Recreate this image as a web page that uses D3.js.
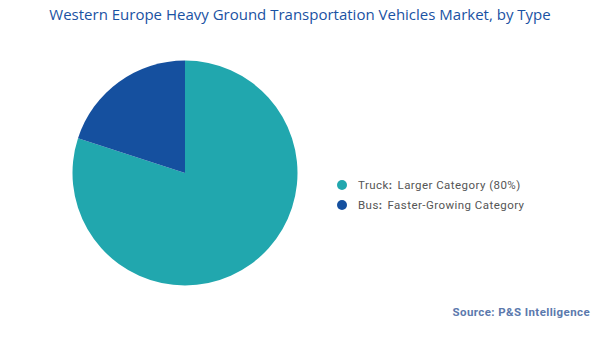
<!DOCTYPE html>
<html>
<head>
<meta charset="utf-8">
<script src="https://cdn.jsdelivr.net/npm/d3@7"></script>
<style>
  body { margin: 0; background: #fff; }
  svg { display: block; }
</style>
</head>
<body>
<svg width="600" height="337"></svg>
<script>
const categories = ["Truck", "Bus"];
const shares = [80, 20];
const legendLabels = ["Larger Category (80%)", "Faster-Growing Category"];
const colors = ["#21a7ae", "#15509f"];

const svg = d3.select("svg");
const width = +svg.attr("width");

svg.append("text")
    .attr("x", width / 2)
    .attr("y", 20)
    .attr("text-anchor", "middle")
    .attr("font-family", "Open Sans")
    .attr("font-size", 15)
    .attr("fill", "#1a52a3")
    .text("Western Europe Heavy Ground Transportation Vehicles Market, by Type");

const data = categories.map((c, i) => ({ name: c, value: shares[i], color: colors[i], label: legendLabels[i] }));

const pie = d3.pie().sort(null).value(d => d.value);
const arc = d3.arc().innerRadius(0).outerRadius(112.5);

const g = svg.append("g")
    .attr("transform", "translate(185, 173)");

g.selectAll("path")
    .data(pie(data))
    .enter().append("path")
        .attr("d", arc)
        .attr("fill", d => d.data.color);

const legend = svg.append("g")
    .attr("transform", "translate(342, 185)");

const items = legend.selectAll("g")
    .data(data)
    .enter().append("g")
        .attr("transform", (d, i) => `translate(0, ${i * 20})`);

items.append("circle")
    .attr("r", 5)
    .attr("fill", d => d.color);

const txt = items.append("text")
    .attr("x", 16)
    .attr("dy", "0.35em")
    .attr("font-family", "Roboto")
    .attr("font-size", 11.5)
    .attr("letter-spacing", 0.45)
    .attr("fill", "#555");

txt.append("tspan").text(d => d.name);
txt.append("tspan").attr("font-weight", "bold").text(":");
txt.append("tspan").attr("dx", 5).text(d => d.label);

svg.append("text")
    .attr("x", 590)
    .attr("y", 316)
    .attr("text-anchor", "end")
    .attr("font-family", "Roboto")
    .attr("font-weight", "bold")
    .attr("font-size", 11.5)
    .attr("letter-spacing", 0.4)
    .attr("fill", "#5b79ad")
    .text("Source: P&S Intelligence");
</script>
</body>
</html>
